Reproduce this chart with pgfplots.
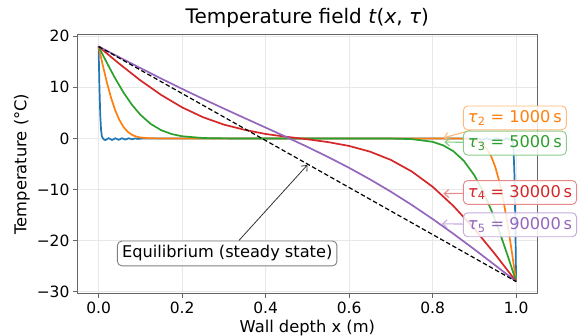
\documentclass[border=0pt]{standalone}
\usepackage{fontspec}
\setmainfont{DejaVu Sans}
\usepackage{pgfplots}
\pgfplotsset{compat=1.18}
\usetikzlibrary{arrows.meta}
\definecolor{tabblue}{HTML}{1F77B4}
\definecolor{taborange}{HTML}{FF7F0E}
\definecolor{tabgreen}{HTML}{2CA02C}
\definecolor{tabred}{HTML}{D62728}
\definecolor{tabpurple}{HTML}{9467BD}
\tikzset{
  lab/.style={draw=#1!55!white, line width=0.9pt, rounded corners=4.5pt, fill=white,
    fill opacity=0.85, text opacity=1, text=#1, inner sep=4.6pt,
    font=\fontsize{16.2}{19}\selectfont, anchor=west},
  larr/.style={draw=#1!55!white, line width=1.1pt, -{Straight Barb[length=4.5pt,width=8pt]}}
}
\begin{document}
\begin{tikzpicture}
\begin{axis}[
  width=459.3pt, height=258.6pt, scale only axis,
  xmin=-0.05, xmax=1.05, ymin=-30.3, ymax=20.3,
  xtick={0,0.2,0.4,0.6,0.8,1.0},
  xticklabels={0.0,0.2,0.4,0.6,0.8,1.0},
  ytick={-30,-20,-10,0,10,20},
  yticklabels={−30,−20,−10,0,10,20},
  tick label style={font=\fontsize{15.5}{18}\selectfont},
  label style={font=\fontsize{16.3}{19}\selectfont},
  title style={font=\fontsize{20}{24}\selectfont, at={(0.5,1)}, anchor=base, yshift=5.4pt},
  title={Temperature field \textit{t}(\textit{x}, \textit{τ})},
  xlabel={Wall depth x (m)},
  ylabel={Temperature (°C)},
  grid=major,
  major grid style={line width=0.8pt, draw=black!9},
  axis line style={draw=black!60, line width=0.9pt},
  tick style={draw=black!60, line width=0.9pt},
  tick align=outside, major tick length=4.7pt,
  tick pos=left,
  /pgf/number format/assume math mode=true,
]
% tau1 (blue)
\addplot[tabblue, line width=1.7pt] coordinates {
(0,18) (0.002,10.3) (0.004,4.64) (0.006,1.61) (0.008,0.43) (0.010,0.08)
(0.012,-0.15) (0.016,-0.32) (0.020,-0.15) (0.024,0.05) (0.028,-0.1) (0.032,-0.3)
(0.036,-0.15) (0.040,0.03) (0.044,-0.1) (0.048,-0.27) (0.052,-0.12) (0.056,0.03)
(0.060,-0.08) (0.064,-0.22) (0.068,-0.1) (0.072,0.02) (0.076,-0.06) (0.080,-0.17)
(0.084,-0.08) (0.088,0.01) (0.094,-0.1) (0.1,-0.05) (0.11,0) (0.5,0) (0.89,0)
(0.906,0.02) (0.912,-0.1) (0.918,-0.3) (0.924,-0.1) (0.930,0.04) (0.936,-0.15)
(0.942,-0.4) (0.948,-0.15) (0.954,0.05) (0.960,-0.2) (0.966,-0.45) (0.972,-0.2)
(0.978,0.05) (0.984,-0.25) (0.988,-0.1) (0.990,-0.13) (0.992,-0.66) (0.994,-2.51)
(0.996,-7.22) (0.998,-16.0) (1.0,-28)
};
% tau2 = 1000 s (orange)
\addplot[taborange, line width=1.7pt] coordinates {
(0,18) (0.005,16.16) (0.01,14.35) (0.02,10.92) (0.03,7.93) (0.04,5.47) (0.05,3.58)
(0.06,2.21) (0.07,1.29) (0.08,0.71) (0.09,0.37) (0.1,0.19) (0.12,0.04) (0.15,0)
(0.85,0) (0.88,-0.06) (0.9,-0.29) (0.92,-1.11) (0.93,-2.01) (0.94,-3.44) (0.95,-5.56)
(0.96,-8.51) (0.97,-12.34) (0.98,-16.99) (0.99,-22.32) (0.995,-25.13) (1,-28)
};
% tau3 = 5000 s (green)
\addplot[tabgreen, line width=1.7pt] coordinates {
(0,18) (0.01,16.38) (0.02,14.78) (0.04,11.72) (0.06,8.95) (0.08,6.58) (0.1,4.64)
(0.125,2.83) (0.15,1.61) (0.175,0.86) (0.2,0.43) (0.25,0.08) (0.3,0.01) (0.35,0)
(0.65,0) (0.7,-0.02) (0.75,-0.13) (0.8,-0.66) (0.825,-1.34) (0.85,-2.51) (0.875,-4.40)
(0.9,-7.22) (0.92,-10.23) (0.94,-13.92) (0.96,-18.23) (0.98,-22.99) (0.99,-25.48) (1,-28)
};
% tau4 = 30000 s (red)
\addplot[tabred, line width=1.7pt] coordinates {
(0,18) (0.025,16.28) (0.05,14.59) (0.1,11.37) (0.15,8.505) (0.2,6.08) (0.25,4.158)
(0.3,2.709) (0.35,1.683) (0.4,0.87) (0.45,0.325) (0.5,-0.165) (0.55,-0.72) (0.6,-1.47)
(0.65,-2.58) (0.7,-4.20) (0.75,-6.46) (0.8,-9.45) (0.85,-13.23) (0.9,-17.69)
(0.95,-22.69) (0.975,-25.33) (1,-28)
};
% tau5 = 90000 s (purple)
\addplot[tabpurple, line width=1.7pt] coordinates {
(0,18) (0.05,15.877) (0.1,13.775) (0.15,11.712) (0.2,9.70) (0.25,7.746) (0.3,5.842)
(0.35,3.977) (0.4,2.127) (0.45,0.264) (0.5,-1.648) (0.55,-3.642) (0.6,-5.751)
(0.65,-8.003) (0.7,-10.418) (0.75,-13.006) (0.8,-15.76) (0.85,-18.668) (0.9,-21.703)
(0.95,-24.829) (1,-28)
};
% equilibrium
\addplot[black, line width=1.2pt, dash pattern=on 4.5pt off 2.5pt] coordinates {(0,18) (1,-28)};
\coordinate (p2) at (axis cs:0.8725,4.02);
\coordinate (p3) at (axis cs:0.8725,-0.92);
\coordinate (p4) at (axis cs:0.8725,-10.57);
\coordinate (p5) at (axis cs:0.8725,-16.9);
\coordinate (a2) at (axis cs:0.826,0.1);
\coordinate (a3) at (axis cs:0.828,-0.7);
\coordinate (a4) at (axis cs:0.826,-10.8);
\coordinate (a5) at (axis cs:0.822,-16.7);
\coordinate (pe) at (axis cs:0.308,-22.5);
\coordinate (ae) at (axis cs:0.5,-5.2);
\end{axis}
\node[lab=taborange] (n2) at (p2) {\textit{τ}\textsubscript{2} = 1000\,s};
\draw[larr=taborange] (n2) -- (a2);
\node[lab=tabgreen] (n3) at (p3) {\textit{τ}\textsubscript{3} = 5000\,s};
\draw[larr=tabgreen] (n3) -- (a3);
\node[lab=tabred] (n4) at (p4) {\textit{τ}\textsubscript{4} = 30000\,s};
\draw[larr=tabred] (n4) -- (a4);
\node[lab=tabpurple] (n5) at (p5) {\textit{τ}\textsubscript{5} = 90000\,s};
\draw[larr=tabpurple] (n5) -- (a5);
\node[draw=black!50, line width=0.9pt, rounded corners=4.5pt, fill=white, fill opacity=0.85,
  text opacity=1, inner sep=4.6pt, font=\fontsize{16.2}{19}\selectfont] (ne) at (pe)
  {Equilibrium (steady state)};
\draw[black!80, line width=0.8pt, -{Straight Barb[length=4.5pt,width=8pt]}] (ne) -- (ae);
\pgfresetboundingbox
\useasboundingbox (-77.7pt,-42.7pt) rectangle (504.3pt,293.3pt);
\end{tikzpicture}
\end{document}
